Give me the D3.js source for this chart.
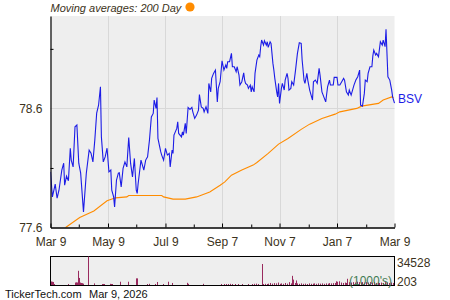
<!DOCTYPE html>
<html><head><meta charset="utf-8">
<script src="https://cdn.jsdelivr.net/npm/d3@7"></script>
<style>body{margin:0;background:#fff}svg{display:block}text{font-family:"Liberation Sans",Arial,sans-serif}</style>
</head><body><svg id="c" width="450" height="300"></svg>
<script>
// Days since Mar 9, 2025 and BSV closing price
const priceDays = [0,2,5,7,9,12,14,15,17,19,21,22,24,26,28,30,32,35,38,41,43,45,47,49,51,53,54,56,58,60,62,64,65,67,68,70,72,73,75,77,79,81,83,85,87,89,91,92,93,96,99,101,103,105,107,109,110,112,113,114,117,118,120,122,124,126,127,129,130,131,134,135,136,139,140,141,143,144,146,148,150,151,153,155,157,158,160,162,163,165,167,168,170,171,173,175,177,178,180,182,184,186,187,188,190,192,193,195,197,198,200,201,203,205,206,207,209,210,212,213,214,216,217,219,221,222,223,224,226,227,229,230,231,233,234,236,237,238,240,241,242,243,245,246,248,249,251,252,253,255,256,258,260,262,264,266,267,269,270,272,273,275,278,279,281,283,285,286,288,290,292,294,296,297,300,301,304,305,307,309,311,312,314,316,317,319,322,324,326,328,329,331,333,334,336,337,339,341,342,343,345,346,348,350,352,353,355,356,358,360,362,363,365];
const priceVals = [78.067,77.857,77.964,77.846,77.913,78.082,78.140,77.955,78.031,77.992,78.266,78.166,78.109,78.445,78.460,78.140,78.056,77.731,78.056,78.250,78.224,78.151,78.334,78.560,78.627,78.782,78.361,78.151,78.193,78.266,78.067,78.082,77.913,77.857,77.773,77.997,78.056,78.059,77.941,78.096,78.151,78.109,78.356,78.138,78.025,78.180,77.913,77.886,77.970,78.166,78.082,78.166,78.193,78.334,78.529,78.558,78.670,78.600,78.692,78.348,78.235,78.208,78.166,78.264,78.208,78.222,78.109,78.250,78.222,78.376,78.432,78.487,78.390,78.361,78.403,78.376,78.474,78.390,78.608,78.592,78.608,78.571,78.516,78.544,78.586,78.716,78.613,78.600,78.571,78.613,78.558,78.810,78.739,78.852,78.894,78.922,78.655,78.768,78.824,79.000,78.922,78.964,78.936,78.992,78.992,79.062,78.950,78.950,78.908,78.950,78.880,78.796,78.824,78.899,78.838,78.810,78.796,78.768,78.796,78.739,78.782,78.739,78.894,79.006,79.048,79.034,79.118,79.174,79.132,79.168,79.132,79.160,79.113,79.160,79.146,78.978,78.922,78.852,78.739,78.697,78.810,78.642,78.768,78.810,78.754,78.838,78.894,78.852,78.754,78.768,78.824,78.796,78.922,79.062,79.151,79.146,79.006,78.838,78.810,78.894,78.838,78.754,78.670,78.824,78.838,78.810,78.936,78.880,78.739,78.697,78.655,78.782,78.838,78.796,78.796,78.861,78.861,78.796,78.796,78.824,78.852,78.838,78.739,78.712,78.754,78.712,78.796,78.838,78.866,78.922,78.628,78.619,78.726,78.838,78.824,78.894,78.950,78.950,79.039,79.090,79.048,79.062,79.034,79.160,79.132,79.174,79.118,79.264,78.866,78.838,78.754,78.697,78.645];
// 200-day moving average
const maDays = [16,31,46,60,69,81,83,118,120,130,143,155,169,180,185,192,203,215,219,231,242,252,266,275,288,302,307,325,330,348,353,362,364];
const maVals = [77.600,77.684,77.739,77.824,77.849,77.857,77.869,77.869,77.857,77.838,77.838,77.857,77.899,77.955,77.983,78.039,78.082,78.124,78.146,78.222,78.300,78.348,78.424,78.468,78.516,78.552,78.571,78.600,78.619,78.642,78.670,78.697,78.692];
// Volume (1000's)
const volDays = [1,2,3,4,19,26,27,28,29,30,31,32,33,34,40,46,55,56,57,63,64,65,74,82,91,92,102,105,111,113,119,125,129,145,146,162,181,184,186,188,190,193,196,199,203,210,214,216,218,220,224,226,228,230,231,233,235,237,239,241,243,245,247,249,251,253,255,256,257,259,260,262,264,266,268,270,272,274,276,278,280,282,284,286,288,290,292,294,296,298,300,302,303,304,306,308,310,312,314,315,317,319,321,323,325,327,329,331,333,335,337,339,341,343,345,347,349,351,353,355,357,359,361,363];
const volVals = [4800,4500,4200,1500,1800,3500,3800,3600,17500,9000,3500,3000,2800,2200,34528,2500,1800,1800,1500,2000,1800,1500,4500,4500,8500,8500,1200,2000,1800,4200,1800,4500,3000,3200,2000,2000,1800,1500,1500,1200,2000,1200,1500,1200,1800,1200,1500,2000,2200,1500,25600,1500,2000,1800,2200,3000,2200,2800,2500,3500,2000,2500,2000,3000,2200,4000,2500,11500,7000,3000,6000,2500,2000,2500,2000,2200,1800,2500,2000,2200,2500,2000,2500,2200,2500,2000,2500,2200,2800,2500,2800,3000,5000,4500,5000,3500,3000,3500,3000,8000,4000,3500,4000,3500,4500,4000,3500,4000,3500,4000,3500,4000,3500,4000,3000,3500,3000,3500,3000,4000,3500,3000,3500,3000];
const xTickDates = ["2025-03-09","2025-05-09","2025-07-09","2025-09-07","2025-11-07","2026-01-07","2026-03-09"];
const xTickLabels = ["Mar 9","May 9","Jul 9","Sep 7","Nov 7","Jan 7","Mar 9"];
const xMinorDates = ["2025-04-08","2025-06-08","2025-08-08","2025-10-08","2025-12-08","2026-02-07"];
const yTickVals = [77.6, 78.6];
const yMinorVals = [78.1, 79.1];
const volLabels = ["34528", "203"];

const parse = d3.timeParse("%Y-%m-%d");
const start = parse("2025-03-09"), end = parse("2026-03-09");
const toDate = d => d3.timeDay.offset(start, d);
const svg = d3.select("#c");
const L = 50.5, R = 394.5, T = 16, B = 227.5;
const x = d3.scaleTime().domain([start, end]).range([L, R]);
const y = d3.scaleLinear().domain([77.6, 79.376]).range([B, T]);
const txt = "#3b3220";

svg.append("rect").attr("x", L).attr("y", T).attr("width", R - L).attr("height", B - T).attr("fill", "#eeeeee");
// grid
svg.append("g").selectAll("line").data(xTickDates.slice(1, -1)).join("line")
  .attr("x1", d => Math.round(x(parse(d))) + 0.5).attr("x2", d => Math.round(x(parse(d))) + 0.5)
  .attr("y1", T).attr("y2", B).attr("stroke", "#d8d8d8");
svg.append("line").attr("x1", L).attr("x2", R).attr("y1", Math.round(y(78.6)) + 0.5).attr("y2", Math.round(y(78.6)) + 0.5).attr("stroke", "#d8d8d8");

const clip = svg.append("clipPath").attr("id", "pc").append("rect").attr("x", L).attr("y", T).attr("width", R - L + 1).attr("height", B - T);
const g = svg.append("g").attr("clip-path", "url(#pc)");
const ma = maDays.map((d, i) => [toDate(d), maVals[i]]);
g.append("path").datum(ma).attr("fill", "none").attr("stroke", "#ff8c00").attr("stroke-width", 1.1)
  .attr("d", d3.line().x(d => x(d[0])).y(d => y(d[1])));
const px = priceDays.map((d, i) => [toDate(d), priceVals[i]]);
g.append("path").datum(px).attr("fill", "none").attr("stroke", "#1c1ce6").attr("stroke-width", 1.1)
  .attr("d", d3.line().x(d => x(d[0])).y(d => y(d[1])));

// axes
const xAxis = d3.axisBottom(x).tickValues(xTickDates.map(parse)).tickFormat((d, i) => xTickLabels[i]).tickSize(-4).tickSizeOuter(0).tickPadding(10);
const xa = svg.append("g").attr("transform", `translate(0,${B})`).call(xAxis);
xa.select(".domain").attr("stroke", "#000").attr("stroke-width", 1.5);
xa.selectAll(".tick line").attr("stroke", "#000");
xa.selectAll("text").attr("font-size", 12).attr("fill", txt).attr("font-family", "Liberation Sans, Arial, sans-serif");
svg.append("g").attr("transform", `translate(0,${B})`).call(d3.axisBottom(x).tickValues(xMinorDates.map(parse)).tickFormat("").tickSize(-3).tickSizeOuter(0))
  .call(s => s.select(".domain").remove()).selectAll("line").attr("stroke", "#000");

const yAxis = d3.axisLeft(y).tickValues(yTickVals).tickFormat(d3.format(".1f")).tickSize(0).tickPadding(8);
const ya = svg.append("g").attr("transform", `translate(${L},0)`).call(yAxis);
ya.select(".domain").attr("stroke", "#000").attr("stroke-width", 1.2);
ya.selectAll("text").attr("font-size", 12).attr("fill", txt).attr("font-family", "Liberation Sans, Arial, sans-serif");
svg.append("g").attr("transform", `translate(${L},0)`).call(d3.axisRight(y).tickValues(yMinorVals).tickFormat("").tickSize(3).tickSizeOuter(0))
  .call(s => s.select(".domain").remove()).selectAll("line").attr("stroke", "#000");

// series label
svg.append("text").attr("x", 398).attr("y", y(priceVals[priceVals.length - 1]) - 4).attr("dy", "0.35em")
  .attr("font-size", 12).attr("fill", "#1c1ce6").text("BSV");

// legend
svg.append("text").attr("x", 50.5).attr("y", 8).attr("dy", "0.35em").attr("font-size", 11).attr("font-style", "italic").attr("fill", txt).text("Moving averages: 200 Day");
svg.append("circle").attr("cx", 190).attr("cy", 7).attr("r", 4.6).attr("fill", "#ff8c00");

// volume panel
const VT = 256.5, VB = 285.5;
const vy = d3.scaleLinear().domain([0, d3.max(volVals)]).range([VB, VT]);
svg.append("rect").attr("x", L).attr("y", VT).attr("width", R - L).attr("height", VB - VT).attr("fill", "#eeeeee").attr("stroke", "#000").attr("stroke-width", 1);
svg.append("g").selectAll("rect").data(volDays.map((d, i) => [toDate(d), volVals[i]])).join("rect")
  .attr("x", d => Math.round(x(d[0]))).attr("width", 1)
  .attr("y", d => Math.min(vy(d[1]), VB - 1.5)).attr("height", d => VB - 0.5 - Math.min(vy(d[1]), VB - 1.5))
  .attr("fill", "#992a5e");
svg.append("text").attr("x", 392).attr("y", 281).attr("dy", "0.35em").attr("text-anchor", "end").attr("font-size", 12).attr("fill", "#3f7a52").text("(1000's)");
svg.append("text").attr("x", 397).attr("y", 263).attr("dy", "0.35em").attr("font-size", 12).attr("fill", txt).text(volLabels[0]);
svg.append("text").attr("x", 397).attr("y", 282).attr("dy", "0.35em").attr("font-size", 12).attr("fill", txt).text(volLabels[1]);

// footer
svg.append("text").attr("x", 5).attr("y", 294).attr("dy", "0.35em").attr("font-size", 11).attr("fill", "#111").text("TickerTech.com");
svg.append("text").attr("x", 89).attr("y", 294).attr("dy", "0.35em").attr("font-size", 11).attr("fill", "#111").text("Mar 9, 2026");
</script></body></html>
